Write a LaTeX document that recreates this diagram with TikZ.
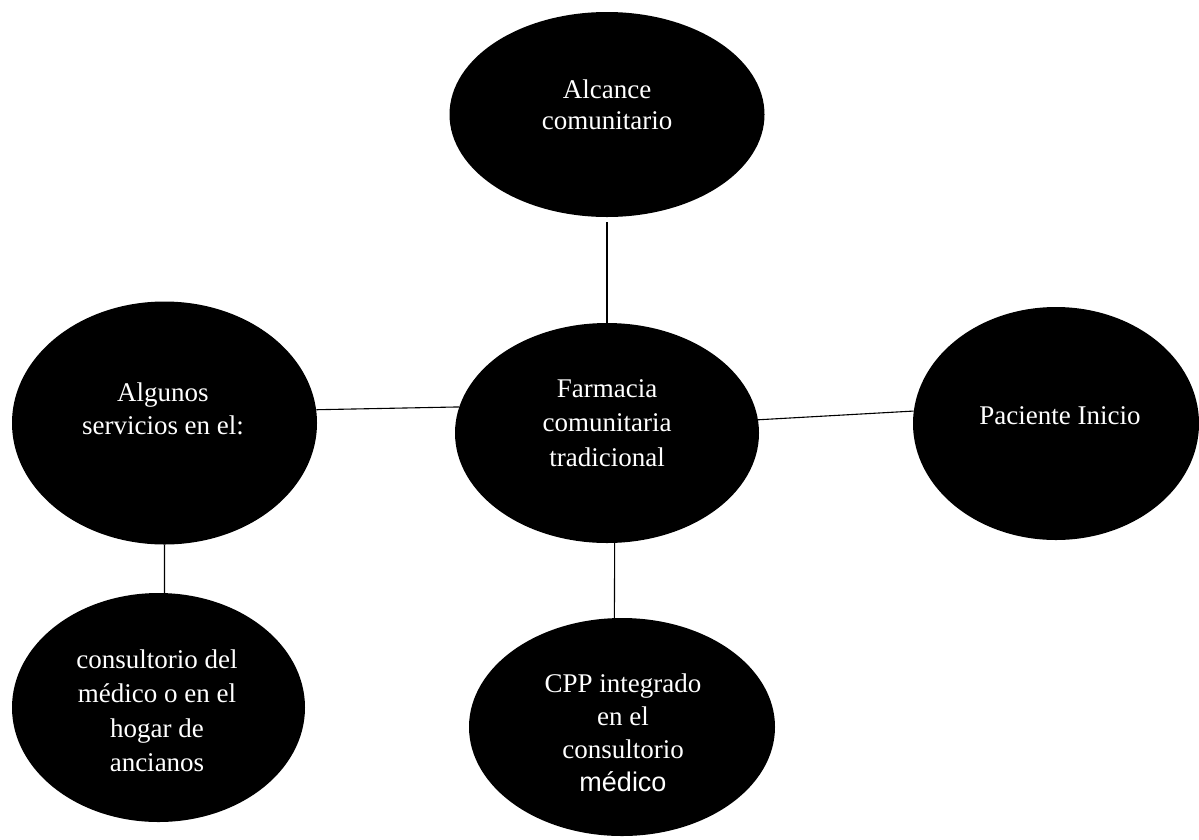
\documentclass[tikz,border=0pt]{standalone}
\usepackage{fontspec}
\setmainfont{Liberation Serif}
\newfontfamily\arialf{Liberation Sans}
\usetikzlibrary{shapes.geometric}
\begin{document}
\begin{tikzpicture}[x=1pt,y=-1pt,
  bubble/.style={ellipse, fill=black, draw=none, inner sep=0pt},
  lbl/.style={text=white, align=center, anchor=north, inner sep=0pt},
  link/.style={draw=black, line width=1.1pt}]
\useasboundingbox (0,0) rectangle (1199,839);
% ellipses
\node[bubble, minimum width=315pt, minimum height=205pt] (alc) at (607,114.5) {};
\node[bubble, minimum width=305pt, minimum height=243pt] (alg) at (164.5,423) {};
\node[bubble, minimum width=304pt, minimum height=220pt] (far) at (607,433) {};
\node[bubble, minimum width=286pt, minimum height=233pt] (pac) at (1056,423.5) {};
\node[bubble, minimum width=293pt, minimum height=229pt] (con) at (158.5,707.5) {};
\node[bubble, minimum width=306pt, minimum height=218pt] (cpp) at (622,727) {};
% labels
\node[lbl, font=\fontsize{27}{31}\selectfont] (talc) at (607,79) {\rule{0pt}{19pt}Alcance\\comunitario};
\node[lbl, font=\fontsize{27}{33}\selectfont] (talg) at (163,382) {\rule{0pt}{19pt}Algunos\\servicios en el:};
\node[lbl, font=\fontsize{27}{34.5}\selectfont] (tfar) at (607,378) {\rule{0pt}{19pt}Farmacia\\comunitaria\\tradicional};
\node[lbl, font=\fontsize{27}{33}\selectfont] (tpac) at (1060,405) {\rule{0pt}{19pt}Paciente Inicio};
\node[lbl, font=\fontsize{27}{34.5}\selectfont] (tcon) at (157,649) {\rule{0pt}{19pt}consultorio del\\médico o en el\\hogar de\\ancianos};
\node[lbl, font=\fontsize{27}{33}\selectfont] (tcpp) at (623,673) {\rule{0pt}{19pt}CPP integrado\\en el\\consultorio\\{\arialf médico}};
% connectors
\draw[link, shorten <=5pt] (alc) -- (far);
\draw[link] (alg.5.7) -- (far.170.8);
\draw[link] (far.5.7) -- (pac.175);
\draw[link] (far.-86.6) -- (cpp.94.5);
\draw[link] (alg.south) -- (con.87.2);
\end{tikzpicture}
\end{document}
